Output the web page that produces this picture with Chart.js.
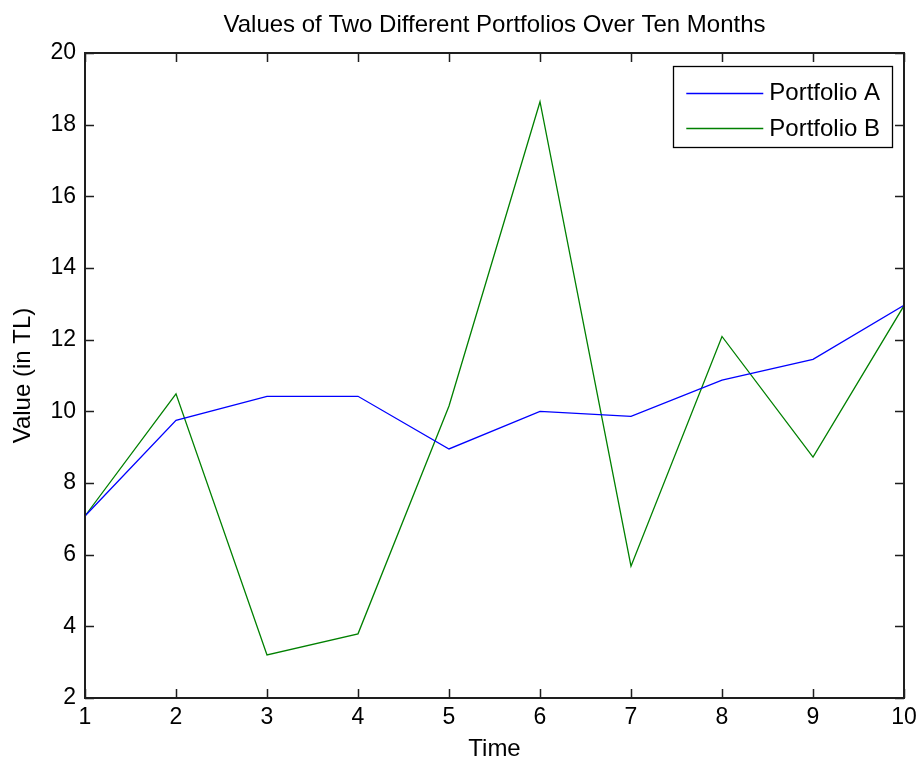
<!DOCTYPE html>
<html>
<head>
<meta charset="utf-8">
<script src="https://cdn.jsdelivr.net/npm/chart.js@4.4.1/dist/chart.umd.min.js"></script>
<style>
  html, body { margin: 0; padding: 0; background: #ffffff; }
  #wrap { width: 917px; height: 761px; }
</style>
</head>
<body>
<div id="wrap"><canvas id="c" width="917" height="761"></canvas></div>
<script>
// ---- data ----
const months = [1, 2, 3, 4, 5, 6, 7, 8, 9, 10];
const portfolioA = [7.08, 9.75, 10.42, 10.42, 8.95, 10.0, 9.86, 10.87, 11.45, 12.96];
const portfolioB = [7.08, 10.49, 3.2, 3.79, 10.15, 18.64, 5.68, 12.09, 8.72, 12.95];
const seriesNames = ['Portfolio A', 'Portfolio B'];
const yTicks = [2, 4, 6, 8, 10, 12, 14, 16, 18, 20];
const xTicks = months;
const chartTitle = 'Values of Two Different Portfolios Over Ten Months';

const FONT = '"Liberation Sans", Arial, Helvetica, sans-serif';

function toPoints(xs, ys) { return xs.map((x, i) => ({ x: x, y: ys[i] })); }

// Box, inward ticks and in-plot legend
const matlabAxes = {
  id: 'matlabAxes',
  afterDatasetsDraw(chart) {
    const { ctx, chartArea: a, scales } = chart;
    const tl = 9;
    ctx.save();
    ctx.strokeStyle = '#1e1e1e';
    ctx.lineWidth = 1.5;
    ctx.beginPath();
    scales.y.ticks.forEach(t => {
      const py = Math.round(scales.y.getPixelForValue(t.value)) + 0.5;
      ctx.moveTo(a.left, py); ctx.lineTo(a.left + tl, py);
      ctx.moveTo(a.right, py); ctx.lineTo(a.right - tl, py);
    });
    scales.x.ticks.forEach(t => {
      const px = Math.round(scales.x.getPixelForValue(t.value)) + 0.5;
      ctx.moveTo(px, a.bottom); ctx.lineTo(px, a.bottom - tl);
      ctx.moveTo(px, a.top); ctx.lineTo(px, a.top + tl);
    });
    ctx.stroke();
    ctx.lineWidth = 2;
    ctx.strokeRect(a.left, a.top, a.right - a.left, a.bottom - a.top);

    // legend
    const fs = 24;
    ctx.font = fs + 'px ' + FONT;
    const ds = chart.data.datasets;
    let tw = 0;
    ds.forEach(d => { tw = Math.max(tw, ctx.measureText(d.label).width); });
    const padL = 13, lineLen = 77, gap = 6, padR = 12;
    const w = padL + lineLen + gap + tw + padR;
    const h = 81;
    const right = a.right - 12;
    const left = right - w;
    const top = a.top + 13;
    ctx.fillStyle = '#ffffff';
    ctx.fillRect(left, top, w, h);
    ctx.lineWidth = 1.3;
    ctx.strokeStyle = '#000000';
    ctx.strokeRect(Math.round(left) + 0.5, Math.round(top) + 0.5, Math.round(w), h);
    const rows = [26.7, 62.3];
    ds.forEach((d, i) => {
      const cy = top + rows[i];
      ctx.beginPath();
      ctx.strokeStyle = d.borderColor;
      ctx.lineWidth = 1.5;
      ctx.moveTo(left + padL, Math.round(cy) + 0.5);
      ctx.lineTo(left + padL + lineLen, Math.round(cy) + 0.5);
      ctx.stroke();
      ctx.fillStyle = '#000000';
      ctx.textBaseline = 'middle';
      ctx.textAlign = 'left';
      ctx.fillText(d.label, left + padL + lineLen + gap, cy + 1);
    });
    ctx.restore();
  }
};

new Chart(document.getElementById('c'), {
  type: 'line',
  data: {
    datasets: [
      { label: seriesNames[0], data: toPoints(months, portfolioA), borderColor: '#0000ff', backgroundColor: '#0000ff', borderWidth: 1.3, pointRadius: 0, tension: 0, fill: false },
      { label: seriesNames[1], data: toPoints(months, portfolioB), borderColor: '#008000', backgroundColor: '#008000', borderWidth: 1.3, pointRadius: 0, tension: 0, fill: false }
    ]
  },
  options: {
    responsive: false,
    devicePixelRatio: 1,
    animation: false,
    layout: { padding: { left: 0, right: 13, top: 0, bottom: 0 } },
    plugins: {
      legend: { display: false },
      tooltip: { enabled: false },
      title: { display: false }
    },
    scales: {
      x: {
        type: 'linear',
        min: 1, max: 10,
        afterBuildTicks: s => { s.ticks = xTicks.map(v => ({ value: v })); },
        afterFit: s => { s.height = 63; s.paddingLeft = 0; s.paddingRight = 0; },
        grid: { display: false, drawTicks: false },
        border: { display: false },
        ticks: { color: '#000000', padding: 8, maxRotation: 0, autoSkip: false, font: { family: FONT, size: 23, lineHeight: 1.0 } },
        title: { display: true, text: 'Time', color: '#000000', font: { family: FONT, size: 24, lineHeight: 1.0 }, padding: { top: 0, bottom: 0 } }
      },
      xTop: {
        type: 'linear',
        position: 'top',
        min: 1, max: 10,
        afterFit: s => { s.height = 53; s.paddingLeft = 0; s.paddingRight = 0; },
        grid: { display: false, drawTicks: false },
        border: { display: false },
        ticks: { display: false },
        title: { display: true, text: chartTitle, color: '#000000', font: { family: FONT, size: 24, lineHeight: 1.0 }, padding: { top: 13, bottom: 0 } }
      },
      y: {
        type: 'linear',
        min: 2, max: 20,
        afterBuildTicks: s => { s.ticks = yTicks.map(v => ({ value: v })); },
        afterFit: s => { s.width = 85; },
        grid: { display: false, drawTicks: false },
        border: { display: false },
        ticks: { color: '#000000', padding: 9, autoSkip: false, font: { family: FONT, size: 23, lineHeight: 1.0 } },
        title: { display: true, text: 'Value (in TL)', color: '#000000', font: { family: FONT, size: 24, lineHeight: 1.0 }, padding: { top: 11, bottom: 0 } }
      }
    }
  },
  plugins: [matlabAxes]
});
</script>
</body>
</html>
